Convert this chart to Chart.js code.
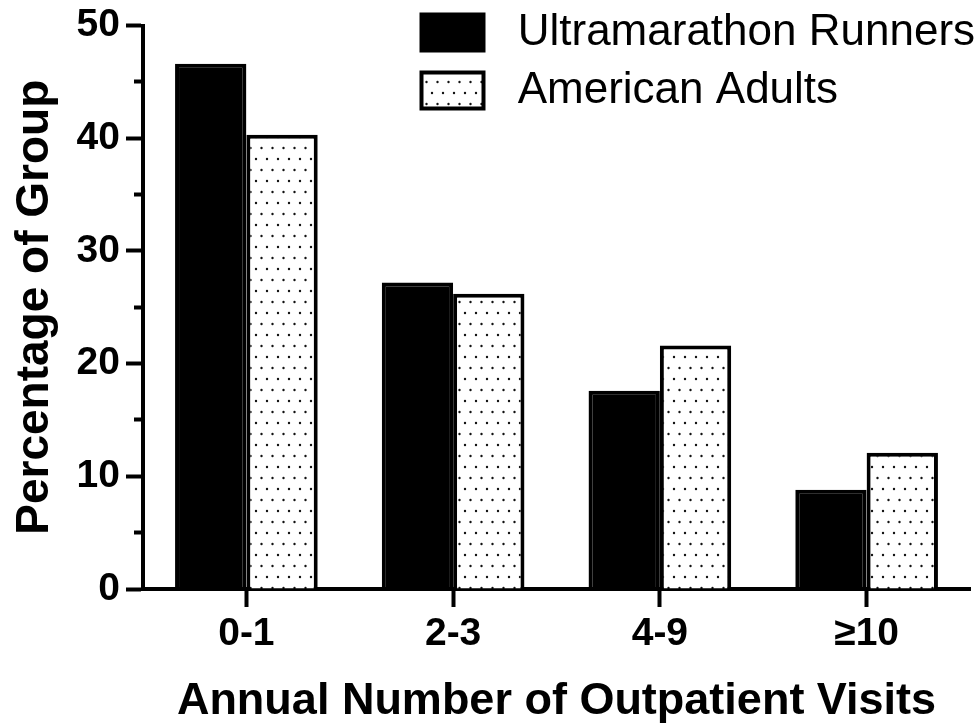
<!DOCTYPE html>
<html>
<head>
<meta charset="utf-8">
<title>Annual Number of Outpatient Visits</title>
<script src="https://cdn.jsdelivr.net/npm/chart.js@4/dist/chart.umd.min.js"></script>
<style>
  html, body { margin: 0; padding: 0; background: #fff; }
  #wrap { width: 980px; height: 724px; }
</style>
</head>
<body>
<div id="wrap"><canvas id="chart" width="980" height="724"></canvas></div>
<script>
// Share of each group by annual number of outpatient visits (%)
const categories = ['0-1', '2-3', '4-9', '\u226510'];
const seriesNames = ['Ultramarathon Runners', 'American Adults'];
const runners = [46.6, 27.2, 17.6, 8.8];
const adults = [40.3, 26.2, 21.6, 12.1];
const yTicks = [0, 10, 20, 30, 40, 50];

const FONT = "'Liberation Sans', Arial, Helvetica, sans-serif";

// Stippled fill: staggered rows of small dots on white
function dotPattern() {
  const c = document.createElement('canvas');
  c.width = 11; c.height = 22;
  const g = c.getContext('2d');
  g.fillStyle = '#fff';
  g.fillRect(0, 0, 11, 22);
  g.fillStyle = '#111';
  g.beginPath(); g.arc(3, 5, 1.2, 0, Math.PI * 2); g.fill();
  g.beginPath(); g.arc(8.5, 16, 1.2, 0, Math.PI * 2); g.fill();
  return document.getElementById('chart').getContext('2d').createPattern(c, 'repeat');
}

// Places the legend block in the upper right of the plot
const legendPlacer = {
  id: 'legendPlacer',
  afterLayout(chart) {
    const lg = chart.legend;
    if (!lg) return;
    const pad = lg.options.labels.padding;
    const h = lg.height;
    lg.left = 421.5 - pad;
    lg.top = 10.5 - pad;
    lg.right = lg.left + lg.width;
    lg.bottom = lg.top + h;
  }
};

new Chart(document.getElementById('chart'), {
  type: 'bar',
  data: {
    labels: categories,
    datasets: [
      {
        label: seriesNames[0],
        data: runners,
        backgroundColor: '#000',
        borderColor: '#000',
        borderWidth: 4
      },
      {
        label: seriesNames[1],
        data: adults,
        backgroundColor: dotPattern(),
        borderColor: '#000',
        borderWidth: 4
      }
    ]
  },
  options: {
    responsive: false,
    animation: false,
    devicePixelRatio: 1,
    layout: { padding: { left: 0, top: 25, right: 10, bottom: 0 } },
    datasets: {
      bar: { categoryPercentage: 0.69, barPercentage: 1.0 }
    },
    plugins: {
      tooltip: { enabled: false },
      legend: {
        position: 'chartArea',
        align: 'start',
        labels: {
          boxWidth: 62,
          boxHeight: 36,
          padding: 14,
          color: '#000',
          font: { family: FONT, size: 44, weight: 'normal' },
          generateLabels(chart) {
            const items = Chart.defaults.plugins.legend.labels.generateLabels(chart);
            items.forEach(it => { it.text = ' ' + it.text; });
            return items;
          }
        }
      }
    },
    scales: {
      x: {
        type: 'category',
        afterFit(scale) { scale.height = 135; },
        grid: {
          offset: false,
          drawOnChartArea: false,
          tickLength: 18,
          tickWidth: 4,
          tickColor: '#000'
        },
        border: { display: true, color: '#000', width: 4 },
        ticks: {
          color: '#000',
          padding: 8,
          font: { family: FONT, size: 39, weight: 'bold', lineHeight: 1.0 }
        },
        title: {
          display: true,
          text: 'Annual Number of Outpatient Visits',
          color: '#000',
          padding: { top: 0, bottom: 0 },
          font: { family: FONT, size: 45, weight: 'bold', lineHeight: 1.0 }
        }
      },
      y: {
        min: yTicks[0],
        max: yTicks[yTicks.length - 1],
        afterFit(scale) { scale.width = 143; },
        grid: {
          drawOnChartArea: false,
          tickLength: 17,
          tickWidth: 4,
          tickColor: '#000',
          tickBorderDash: (ctx) => (ctx.tick && yTicks.includes(ctx.tick.value)) ? [] : [0, 8, 30, 0]
        },
        border: { display: true, color: '#000', width: 4 },
        ticks: {
          stepSize: 5,
          color: '#000',
          padding: 6,
          font: { family: FONT, size: 39, weight: 'bold', lineHeight: 1.0 },
          callback: (v) => yTicks.includes(v) ? String(v) : ''
        },
        title: {
          display: true,
          text: 'Percentage of Group',
          color: '#000',
          padding: { top: 8, bottom: 0 },
          font: { family: FONT, size: 46, weight: 'bold' }
        }
      }
    }
  },
  plugins: [legendPlacer]
});
</script>
</body>
</html>
